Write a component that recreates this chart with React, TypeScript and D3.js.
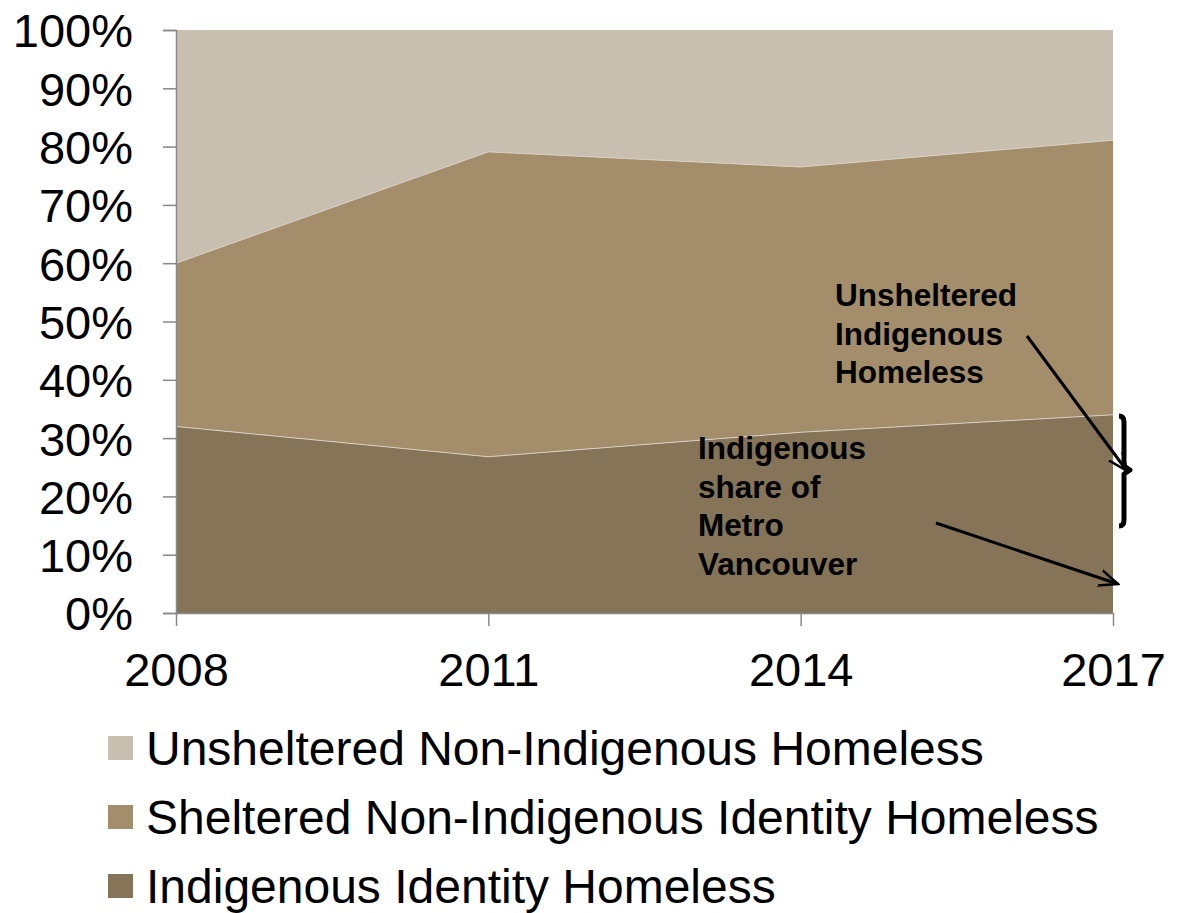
import React, { useRef, useEffect } from 'react';
import * as d3 from 'd3';

const years = ['2008', '2011', '2014', '2017'];
const indigenous = [32, 26.8, 31, 34];
const shelteredNonIndigenous = [28, 52.3, 45.5, 47.1];
const unshelteredNonIndigenous = [40, 20.9, 23.5, 18.9];
const yTicks = [0, 10, 20, 30, 40, 50, 60, 70, 80, 90, 100];

const seriesKeys = ['indigenous', 'sheltered', 'unsheltered'];
const seriesLabels: Record<string, string> = {
  unsheltered: 'Unsheltered Non-Indigenous Homeless',
  sheltered: 'Sheltered Non-Indigenous Identity Homeless',
  indigenous: 'Indigenous Identity Homeless',
};
const seriesColors: Record<string, string> = {
  unsheltered: '#c9bfb0',
  sheltered: '#a38d6b',
  indigenous: '#857457',
};

const FONT = 'Liberation Sans, Arial, sans-serif';

const App: React.FC = () => {
  const svgRef = useRef<SVGSVGElement>(null);

  useEffect(() => {
    if (!svgRef.current) return;
    const root = d3.select(svgRef.current);
    root.selectAll('*').remove();

    const left = 176;
    const right = 1113;
    const top = 30;
    const bottom = 613;

    const x = d3.scalePoint().domain(years).range([left, right]);
    const y = d3.scaleLinear().domain([0, 100]).range([bottom, top]);

    const rows = years.map((yr, i) => ({
      year: yr,
      indigenous: indigenous[i],
      sheltered: shelteredNonIndigenous[i],
      unsheltered: unshelteredNonIndigenous[i],
    }));

    const stacked = d3.stack<any>().keys(seriesKeys)(rows);

    const area = d3
      .area<any>()
      .x((d) => x(d.data.year) as number)
      .y0((d) => y(d[0]))
      .y1((d) => y(d[1]));

    root
      .append('g')
      .selectAll('path')
      .data(stacked)
      .enter()
      .append('path')
      .attr('d', area)
      .attr('fill', (d) => seriesColors[d.key]);

    // thin light borders between layers
    const edge = d3
      .line<any>()
      .x((d) => x(d.data.year) as number)
      .y((d) => y(d[1]));
    root
      .append('g')
      .selectAll('path')
      .data(stacked.slice(0, 2))
      .enter()
      .append('path')
      .attr('d', (d) => edge(d as any))
      .attr('fill', 'none')
      .attr('stroke', '#d8d0c4')
      .attr('stroke-width', 1);

    // y axis
    const yAxis = root
      .append('g')
      .attr('transform', `translate(${left},0)`)
      .call(d3.axisLeft(y).tickValues(yTicks).tickSize(13).tickPadding(30).tickFormat((d) => `${d}%`));
    yAxis.select('.domain').attr('stroke', '#888').attr('stroke-width', 1.5);
    yAxis.selectAll('.tick line').attr('stroke', '#888').attr('stroke-width', 1.5);
    yAxis
      .selectAll('.tick text')
      .attr('font-family', FONT)
      .attr('font-size', 47)
      .attr('fill', '#000')
      .attr('dy', '0.36em');

    // x axis
    const xAxis = root
      .append('g')
      .attr('transform', `translate(0,${bottom})`)
      .call(d3.axisBottom(x).tickSize(13).tickPadding(27).tickSizeOuter(0));
    xAxis.select('.domain').attr('stroke', '#888').attr('stroke-width', 1.5);
    xAxis.selectAll('.tick line').attr('stroke', '#888').attr('stroke-width', 1.5);
    xAxis
      .selectAll('.tick text')
      .attr('font-family', FONT)
      .attr('font-size', 47)
      .attr('fill', '#000');

    // annotations
    const ann = root.append('g').attr('font-family', FONT).attr('font-size', 31.5).attr('font-weight', 'bold');
    ['Unsheltered', 'Indigenous', 'Homeless'].forEach((t, i) => {
      ann.append('text').attr('x', 835).attr('y', 306 + i * 38.5).text(t);
    });
    ['Indigenous', 'share of', 'Metro', 'Vancouver'].forEach((t, i) => {
      ann.append('text').attr('x', 698).attr('y', 459 + i * 38.5).text(t);
    });

    const defs = root.append('defs');
    defs
      .append('marker')
      .attr('id', 'arrowhead')
      .attr('viewBox', '0 0 10 10')
      .attr('refX', 9)
      .attr('refY', 5)
      .attr('markerWidth', 7)
      .attr('markerHeight', 7)
      .attr('markerUnits', 'strokeWidth')
      .attr('orient', 'auto')
      .append('path')
      .attr('d', 'M0,1.2 L9,5 L0,8.8')
      .attr('fill', 'none')
      .attr('stroke', '#000')
      .attr('stroke-width', 1.2)
      .attr('stroke-linecap', 'round');

    root
      .append('line')
      .attr('x1', 1027)
      .attr('y1', 336)
      .attr('x2', 1127)
      .attr('y2', 471)
      .attr('stroke', '#000')
      .attr('stroke-width', 3)
      .attr('marker-end', 'url(#arrowhead)');
    root
      .append('line')
      .attr('x1', 936)
      .attr('y1', 523)
      .attr('x2', 1118)
      .attr('y2', 584)
      .attr('stroke', '#000')
      .attr('stroke-width', 3)
      .attr('marker-end', 'url(#arrowhead)');

    // bracket
    root
      .append('path')
      .attr('d', 'M1119,416 Q1124,416 1124,422 L1124,466 L1130,470 L1124,474 L1124,520 Q1124,526 1119,526')
      .attr('fill', 'none')
      .attr('stroke', '#000')
      .attr('stroke-width', 5)
      .attr('stroke-linejoin', 'round');

    // legend
    const legendOrder = ['unsheltered', 'sheltered', 'indigenous'];
    const legend = root.append('g');
    legendOrder.forEach((k, i) => {
      const cy = 748 + i * 69;
      legend
        .append('rect')
        .attr('x', 108)
        .attr('y', cy - 12)
        .attr('width', 25)
        .attr('height', 24)
        .attr('fill', seriesColors[k]);
      legend
        .append('text')
        .attr('x', 146)
        .attr('y', cy)
        .attr('dy', '0.36em')
        .attr('font-family', FONT)
        .attr('font-size', 48)
        .attr('fill', '#000')
        .text(seriesLabels[k]);
    });
  }, []);

  return (
    <div style={{ position: 'absolute', top: 0, left: 0 }}>
      <svg ref={svgRef} width={1179} height={913} style={{ display: 'block', background: '#fff' }} />
    </div>
  );
};

export default App;
